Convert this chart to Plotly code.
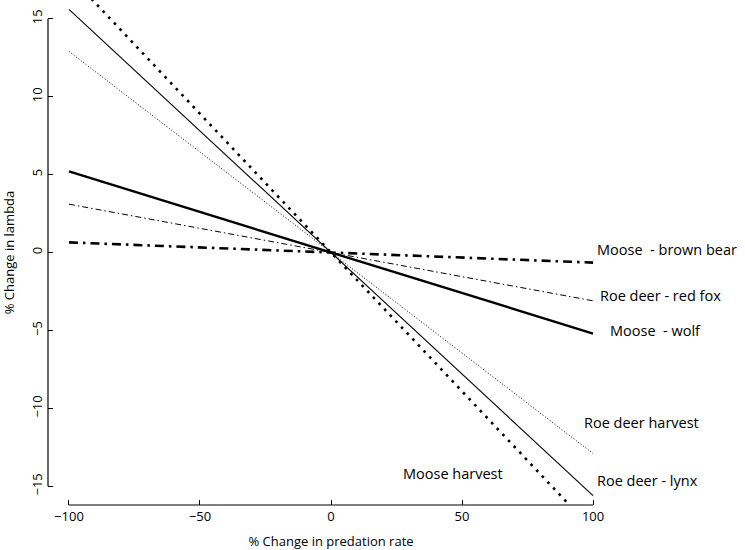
import plotly.graph_objects as go

# % change in predation rate
x_rate = [-100, 0, 100]

# % change in lambda
moose_harvest = [17.8, 0, -17.8]
roe_lynx = [15.6, 0, -15.6]
roe_harvest = [12.9, 0, -12.9]
moose_wolf = [5.2, 0, -5.2]
roe_fox = [3.1, 0, -3.1]
moose_bear = [0.65, 0, -0.65]

label_text = ['Moose\u00a0 - brown bear', 'Roe deer - red fox', 'Moose\u00a0 - wolf',
              'Roe deer harvest', 'Roe deer - lynx', 'Moose harvest']
label_x = [100.6, 101.8, 105.6, 95.6, 100.6, 26.9]
label_y = [0.22, -2.79, -4.98, -10.9, -14.6, -14.2]

x_ticks = [-100, -50, 0, 50, 100]
y_ticks = [-15, -10, -5, 0, 5, 10, 15]

fnt = 'Open Sans, Noto Sans, sans-serif'

fig = go.Figure()

series = [
    (moose_harvest, 'Moose harvest', 2.6, '2.6px,5.6px'),
    (roe_lynx, 'Roe deer - lynx', 1.1, 'solid'),
    (roe_harvest, 'Roe deer harvest', 1.0, '1px,2px'),
    (moose_wolf, 'Moose - wolf', 2.4, 'solid'),
    (roe_fox, 'Roe deer - red fox', 1.0, '6px,3px,1.5px,3px'),
    (moose_bear, 'Moose - brown bear', 2.6, '9px,5px,2.5px,5px'),
]

for vals, name, w, dash in series:
    fig.add_trace(go.Scatter(
        x=x_rate, y=vals, mode='lines', name=name,
        line=dict(color='black', width=w, dash=dash),
        hovertemplate=name + '<br>%{x}: %{y}<extra></extra>'
    ))

for t, xx, yy in zip(label_text, label_x, label_y):
    fig.add_annotation(x=xx, y=yy, text=t, showarrow=False, xanchor='left',
                       yanchor='middle', font=dict(size=14.5, color='black', family=fnt))

# R-style axis lines that span only the tick range
fig.add_shape(type='line', xref='x', yref='paper', x0=x_ticks[0], x1=x_ticks[-1], y0=0, y1=0,
              line=dict(color='black', width=1.2))
fig.add_shape(type='line', xref='paper', yref='y', x0=0, x1=0, y0=y_ticks[0], y1=y_ticks[-1],
              line=dict(color='black', width=1.2))

fig.update_xaxes(
    range=[-108, 108], tickvals=x_ticks, ticktext=[str(v).replace('-', '\u2212') for v in x_ticks],
    ticks='inside', ticklen=5, tickwidth=1.2, tickcolor='black',
    showgrid=False, zeroline=False, showline=False, automargin=False,
    tickfont=dict(size=13, color='black', family=fnt), ticklabelstandoff=2,
    title=dict(text='% Change in predation rate', font=dict(size=13, color='black', family=fnt), standoff=14)
)
fig.update_yaxes(
    range=[-16.2, 16.2], tickvals=y_ticks, ticktext=[str(v).replace('-', '\u2212') for v in y_ticks],
    ticks='inside', ticklen=5, tickwidth=1.2, tickcolor='black', tickangle=-90,
    showgrid=False, zeroline=False, showline=False, automargin=False,
    tickfont=dict(size=13, color='black', family=fnt), ticklabelstandoff=2,
    title=dict(text='% Change in lambda', font=dict(size=13, color='black', family=fnt), standoff=10)
)

fig.update_layout(
    width=745, height=550,
    margin=dict(l=48, r=131, t=0, b=45),
    plot_bgcolor='white', paper_bgcolor='white',
    showlegend=False,
    font=dict(family=fnt)
)

# drop the browser's default body margin so the figure sits at the page corner
fig.write_html('out.html', config={'displayModeBar': False},
               post_script="document.body.style.margin='0';")
